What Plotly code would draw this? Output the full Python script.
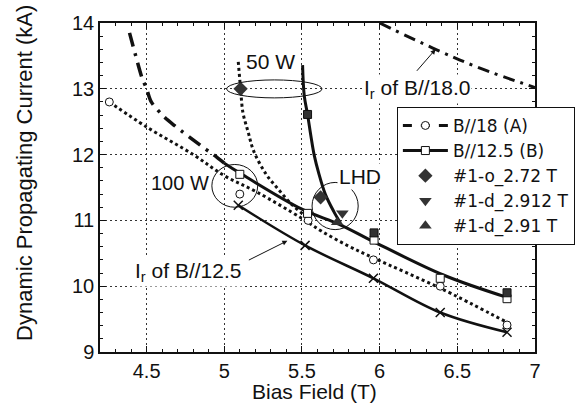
import plotly.graph_objects as go

# ---------------- data ----------------
# B//18 (A): fitted dotted curve and measured points (open circles)
a_line_x = [4.26, 4.5, 4.8, 5.0, 5.21, 5.5, 5.63, 5.8, 5.96, 6.39, 6.82]
a_line_y = [12.8, 12.42, 12.0, 11.68, 11.43, 11.03, 10.83, 10.61, 10.43, 9.97, 9.45]
a_mark_x = [4.26, 5.10, 5.54, 5.96, 6.39, 6.82]
a_mark_y = [12.80, 11.40, 11.00, 10.40, 10.00, 9.41]

# B//12.5 (B): solid curve, low-field dash-dot extension, open squares
b_line_x = [5.0, 5.1, 5.5, 5.74, 5.95, 6.41, 6.82]
b_line_y = [11.87, 11.72, 11.17, 10.94, 10.69, 10.17, 9.83]
b_ext_x = [4.39, 4.43, 4.47, 4.5, 4.53, 4.61, 4.68, 4.87, 4.93, 5.0]
b_ext_y = [13.85, 13.5, 13.17, 13.0, 12.8, 12.58, 12.44, 12.10, 12.0, 11.87]
b_sq_x = [5.10, 5.536, 5.964, 6.39, 6.82]
b_sq_y = [11.70, 11.107, 10.70, 10.12, 9.81]
b_fsq_x = [5.536, 5.964, 6.82]
b_fsq_y = [12.61, 10.81, 9.90]

# Ir of B//12.5 (solid with x marks) and Ir of B//18.0 (dash-dot)
ir125_x = [5.09, 5.52, 5.96, 6.39, 6.82]
ir125_y = [11.23, 10.62, 10.12, 9.60, 9.30]
ir18_x = [6.0, 6.36, 6.65, 7.0]
ir18_y = [14.0, 13.6, 13.31, 13.02]

# 50 W heater curves
w50d_x = [5.09, 5.105, 5.12, 5.154, 5.19, 5.27, 5.356, 5.44, 5.515, 5.56]
w50d_y = [13.41, 13.0, 12.64, 12.34, 12.05, 11.70, 11.45, 11.23, 11.08, 11.0]
w50s_x = [5.504, 5.515, 5.536, 5.557, 5.578, 5.61, 5.65, 5.706, 5.748]
w50s_y = [13.36, 12.89, 12.61, 12.29, 12.0, 11.70, 11.40, 11.13, 10.96]

# LHD-type measurements
o272_x, o272_y = [5.105, 5.62], [13.0, 11.35]
d2912_x, d2912_y = [5.76], [11.11]
d291_x, d291_y = [5.727], [10.97]

x_ticks = [4.5, 5, 5.5, 6, 6.5, 7]
y_ticks = [9, 10, 11, 12, 13, 14]

FONT = "Liberation Sans, Arial, Helvetica, sans-serif"
LFONT = "DejaVu Sans, Liberation Sans, sans-serif"
K = "#111111"
G = "#333333"

fig = go.Figure()

# curves (no legend)
fig.add_trace(go.Scatter(x=ir18_x, y=ir18_y, mode="lines", showlegend=False,
                         line=dict(color=K, width=3, dash="12px,6px,3px,6px", shape="spline")))
fig.add_trace(go.Scatter(x=b_ext_x, y=b_ext_y, mode="lines", showlegend=False,
                         line=dict(color=K, width=3.5, dash="14px,7px,3px,7px", shape="spline", smoothing=0.8)))
fig.add_trace(go.Scatter(x=a_line_x, y=a_line_y, mode="lines", showlegend=False,
                         line=dict(color=K, width=3, dash="dot", shape="spline")))
fig.add_trace(go.Scatter(x=w50d_x, y=w50d_y, mode="lines", showlegend=False,
                         line=dict(color=K, width=3, dash="dot", shape="spline")))
fig.add_trace(go.Scatter(x=b_line_x, y=b_line_y, mode="lines", showlegend=False,
                         line=dict(color=K, width=3, shape="spline")))
fig.add_trace(go.Scatter(x=w50s_x, y=w50s_y, mode="lines", showlegend=False,
                         line=dict(color=K, width=3, shape="spline")))
fig.add_trace(go.Scatter(x=ir125_x, y=ir125_y, mode="lines+markers", showlegend=False,
                         line=dict(color=K, width=2.5, shape="spline"),
                         marker=dict(symbol="x-thin-open", size=9, line=dict(color=K, width=1.5))))

# marker sets
fig.add_trace(go.Scatter(x=a_mark_x, y=a_mark_y, mode="markers", showlegend=False,
                         marker=dict(symbol="circle", size=8, color="white", line=dict(color=K, width=1))))
fig.add_trace(go.Scatter(x=b_sq_x, y=b_sq_y, mode="markers", showlegend=False,
                         marker=dict(symbol="square", size=8, color="white", line=dict(color=K, width=1))))
fig.add_trace(go.Scatter(x=b_fsq_x, y=b_fsq_y, mode="markers", showlegend=False,
                         marker=dict(symbol="square", size=8, color=G, line=dict(color=K, width=1))))

# legend entries
fig.add_trace(go.Scatter(x=[None], y=[None], mode="lines+markers", name="B//18 (A)",
                         line=dict(color=K, width=3, dash="dash"),
                         marker=dict(symbol="circle", size=8, color="white", line=dict(color=K, width=1))))
fig.add_trace(go.Scatter(x=[None], y=[None], mode="lines+markers", name="B//12.5 (B)",
                         line=dict(color=K, width=3),
                         marker=dict(symbol="square", size=8, color="white", line=dict(color=K, width=1))))
fig.add_trace(go.Scatter(x=o272_x, y=o272_y, mode="markers", name="#1-o_2.72 T",
                         marker=dict(symbol="diamond", size=11, color=G)))
fig.add_trace(go.Scatter(x=d2912_x, y=d2912_y, mode="markers", name="#1-d_2.912 T",
                         marker=dict(symbol="triangle-down", size=11, color=G)))
fig.add_trace(go.Scatter(x=d291_x, y=d291_y, mode="markers", name="#1-d_2.91 T",
                         marker=dict(symbol="triangle-up", size=11, color=G)))

shapes = [
    dict(type="circle", xref="x", yref="y", x0=5.015, x1=5.629, y0=12.862, y1=13.135,
         line=dict(color=K, width=1)),
    dict(type="circle", xref="x", yref="y", x0=4.92, x1=5.215, y0=11.2, y1=11.85,
         line=dict(color=K, width=1)),
    dict(type="circle", xref="x", yref="y", x0=5.565, x1=5.862, y0=10.86, y1=11.577,
         line=dict(color=K, width=1)),
]

annotations = [
    dict(x=5.298, y=13.41, text="50 W", showarrow=False, font=dict(size=21, color=K, family=FONT)),
    dict(x=4.714, y=11.567, text="100 W", showarrow=False, font=dict(size=20, color=K, family=FONT),
         bgcolor="white"),
    dict(x=5.875, y=11.66, text="LHD", showarrow=False, font=dict(size=21, color=K, family=FONT),
         bgcolor="white"),
    dict(x=6.238, y=13.0, text="I<sub>r</sub> of B//18.0", showarrow=False,
         font=dict(size=21, color=K, family=FONT), bgcolor="white"),
    dict(x=4.765, y=10.22, text="I<sub>r</sub> of B//12.5", showarrow=False,
         font=dict(size=21, color=K, family=FONT), bgcolor="white"),
    dict(x=6.36, y=13.6, ax=-20, ay=23, text="", showarrow=True, arrowhead=2, arrowsize=1,
         arrowwidth=1, arrowcolor=K),
    dict(x=5.406, y=10.69, ax=-40, ay=20, text="", showarrow=True, arrowhead=2, arrowsize=1,
         arrowwidth=1, arrowcolor=K),
    dict(xref="paper", yref="paper", x=0.493, y=-0.12, text="Bias Field (T)", showarrow=False,
         xanchor="center", yanchor="middle", font=dict(size=21, color=K, family=FONT)),
    dict(xref="paper", yref="paper", x=-0.172, y=0.545, text="Dynamic Propagating Current (kA)",
         showarrow=False, textangle=-90, xanchor="center", yanchor="middle",
         font=dict(size=22, color=K, family=FONT)),
]

axis_common = dict(
    showline=True, linecolor=K, linewidth=1.5, mirror="ticks",
    ticks="inside", ticklen=6, tickwidth=1, tickcolor=K,
    showgrid=True, gridcolor="#333333", gridwidth=1, griddash="2px,3px",
    zeroline=False, tickfont=dict(size=20, color=K, family=FONT),
)

fig.update_layout(
    width=587, height=403,
    margin=dict(l=100, r=46, t=15, b=51),
    paper_bgcolor="white", plot_bgcolor="white",
    font=dict(family=FONT, color=K),
    xaxis=dict(range=[4.2, 7], tickvals=x_ticks, ticktext=[f"{v:g}" for v in x_ticks],
               minor=dict(ticks="inside", dtick=0.1, tick0=0, ticklen=3, tickcolor=K, showgrid=False),
               **axis_common),
    yaxis=dict(range=[9, 14], tickvals=y_ticks, ticktext=[str(v) for v in y_ticks],
               minor=dict(ticks="inside", dtick=0.2, tick0=0, ticklen=3, tickcolor=K, showgrid=False),
               **axis_common),
    legend=dict(x=0.6825, y=0.745, xanchor="left", yanchor="top",
                bgcolor="white", bordercolor=K, borderwidth=1,
                font=dict(size=17, color=K, family=LFONT), itemwidth=45,
                tracegroupgap=0),
    shapes=shapes,
    annotations=annotations,
)

fig.write_html("out.html", config={"displayModeBar": False},
               post_script="document.body.style.margin='0';")
